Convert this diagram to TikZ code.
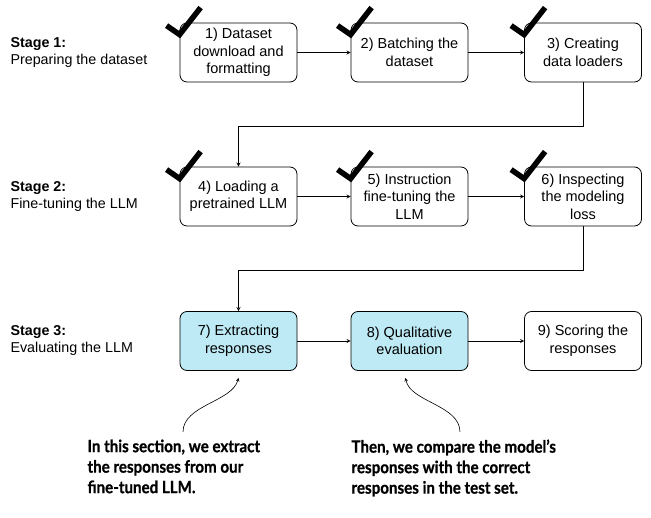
\documentclass[tikz,border=0pt]{standalone}
\usepackage{fontspec}
\setmainfont{Liberation Sans}
\newfontfamily\notefont[FakeStretch=0.89, FakeBold=0.8]{Lato}
\definecolor{evalblue}{RGB}{190,234,245}
\begin{document}
\begin{tikzpicture}[x=1pt, y=-1pt, line join=round, >=stealth, font=\fontsize{14.5}{17.5}\selectfont]
	\tikzset{stepbox/.style={draw, rounded corners=7pt, line width=0.8pt, minimum width=117pt, minimum height=59pt, align=center, inner sep=2pt},
		evalbox/.style={stepbox, fill=evalblue},
		flow/.style={->, line width=0.8pt},
		tickmark/.style={line width=5.5pt, line join=miter, line cap=butt},
		stage/.style={anchor=west, align=left, font=\fontsize{14.3}{17}\selectfont},
		note/.style={anchor=north west, align=left, font=\notefont\bfseries\fontsize{17}{20.5}\selectfont},
		notearrow/.style={->, line width=0.6pt}}
	\useasboundingbox (0,0) rectangle (651,518);
	% stage labels
	\node[stage] (s1) at (7,52) {\textbf{Stage 1:}\\Preparing the dataset};
	\node[stage] (s2) at (7,196) {\textbf{Stage 2:}\\Fine-tuning the LLM};
	\node[stage] (s3) at (7,340) {\textbf{Stage 3:}\\Evaluating the LLM};
	% boxes
	\node[stepbox] (b1) at (238.5,52.5) {1) Dataset\\download and\\formatting};
	\node[stepbox] (b2) at (409.5,52.5) {2) Batching the\\dataset};
	\node[stepbox] (b3) at (583,52.5) {3) Creating\\data loaders};
	\node[stepbox] (b4) at (238.5,196.5) {4) Loading a\\pretrained LLM};
	\node[stepbox] (b5) at (409.5,196.5) {5) Instruction\\fine-tuning the\\LLM};
	\node[stepbox] (b6) at (583,196.5) {6) Inspecting\\the modeling\\loss};
	\node[evalbox] (b7) at (238.5,341) {7) Extracting\\responses};
	\node[evalbox] (b8) at (409.5,341) {8) Qualitative\\evaluation};
	\node[stepbox] (b9) at (583,341) {9) Scoring the\\responses};
	% arrows
	\draw[flow] (b1) -- (b2);
	\draw[flow] (b2) -- (b3);
	\draw[flow] (b4) -- (b5);
	\draw[flow] (b5) -- (b6);
	\draw[flow] (b7) -- (b8);
	\draw[flow] (b8) -- (b9);
	\coordinate (t1) at (238.5,126);
	\coordinate (t2) at (238.5,270);
	\draw[flow] (b3.south) |- (t1) -- (b4.north);
	\draw[flow] (b6.south) |- (t2) -- (b7.north);
	% check marks
	\foreach \b in {b1,b2,b3,b4,b5,b6}
		\draw[tickmark] ([shift={(-13,3)}]\b.north west) -- ([shift={(0,12)}]\b.north west) -- ([shift={(21,-15)}]\b.north west);
	% notes
	\node[note] (n1) at (84,436) {In this section, we extract\\the responses from our\\fine-tuned LLM.};
	\node[note] (n2) at (348,436) {Then, we compare the model’s\\responses with the correct\\responses in the test set.};
	\coordinate (c1) at (183,432);
	\coordinate (c2) at (460,432);
	\draw[notearrow] (c1) .. controls (183,405) and (232,402) .. ([shift={(0,7)}]b7.south);
	\draw[notearrow] (c2) .. controls (460,405) and (410,402) .. ([shift={(-4,7)}]b8.south);
\end{tikzpicture}
\end{document}
